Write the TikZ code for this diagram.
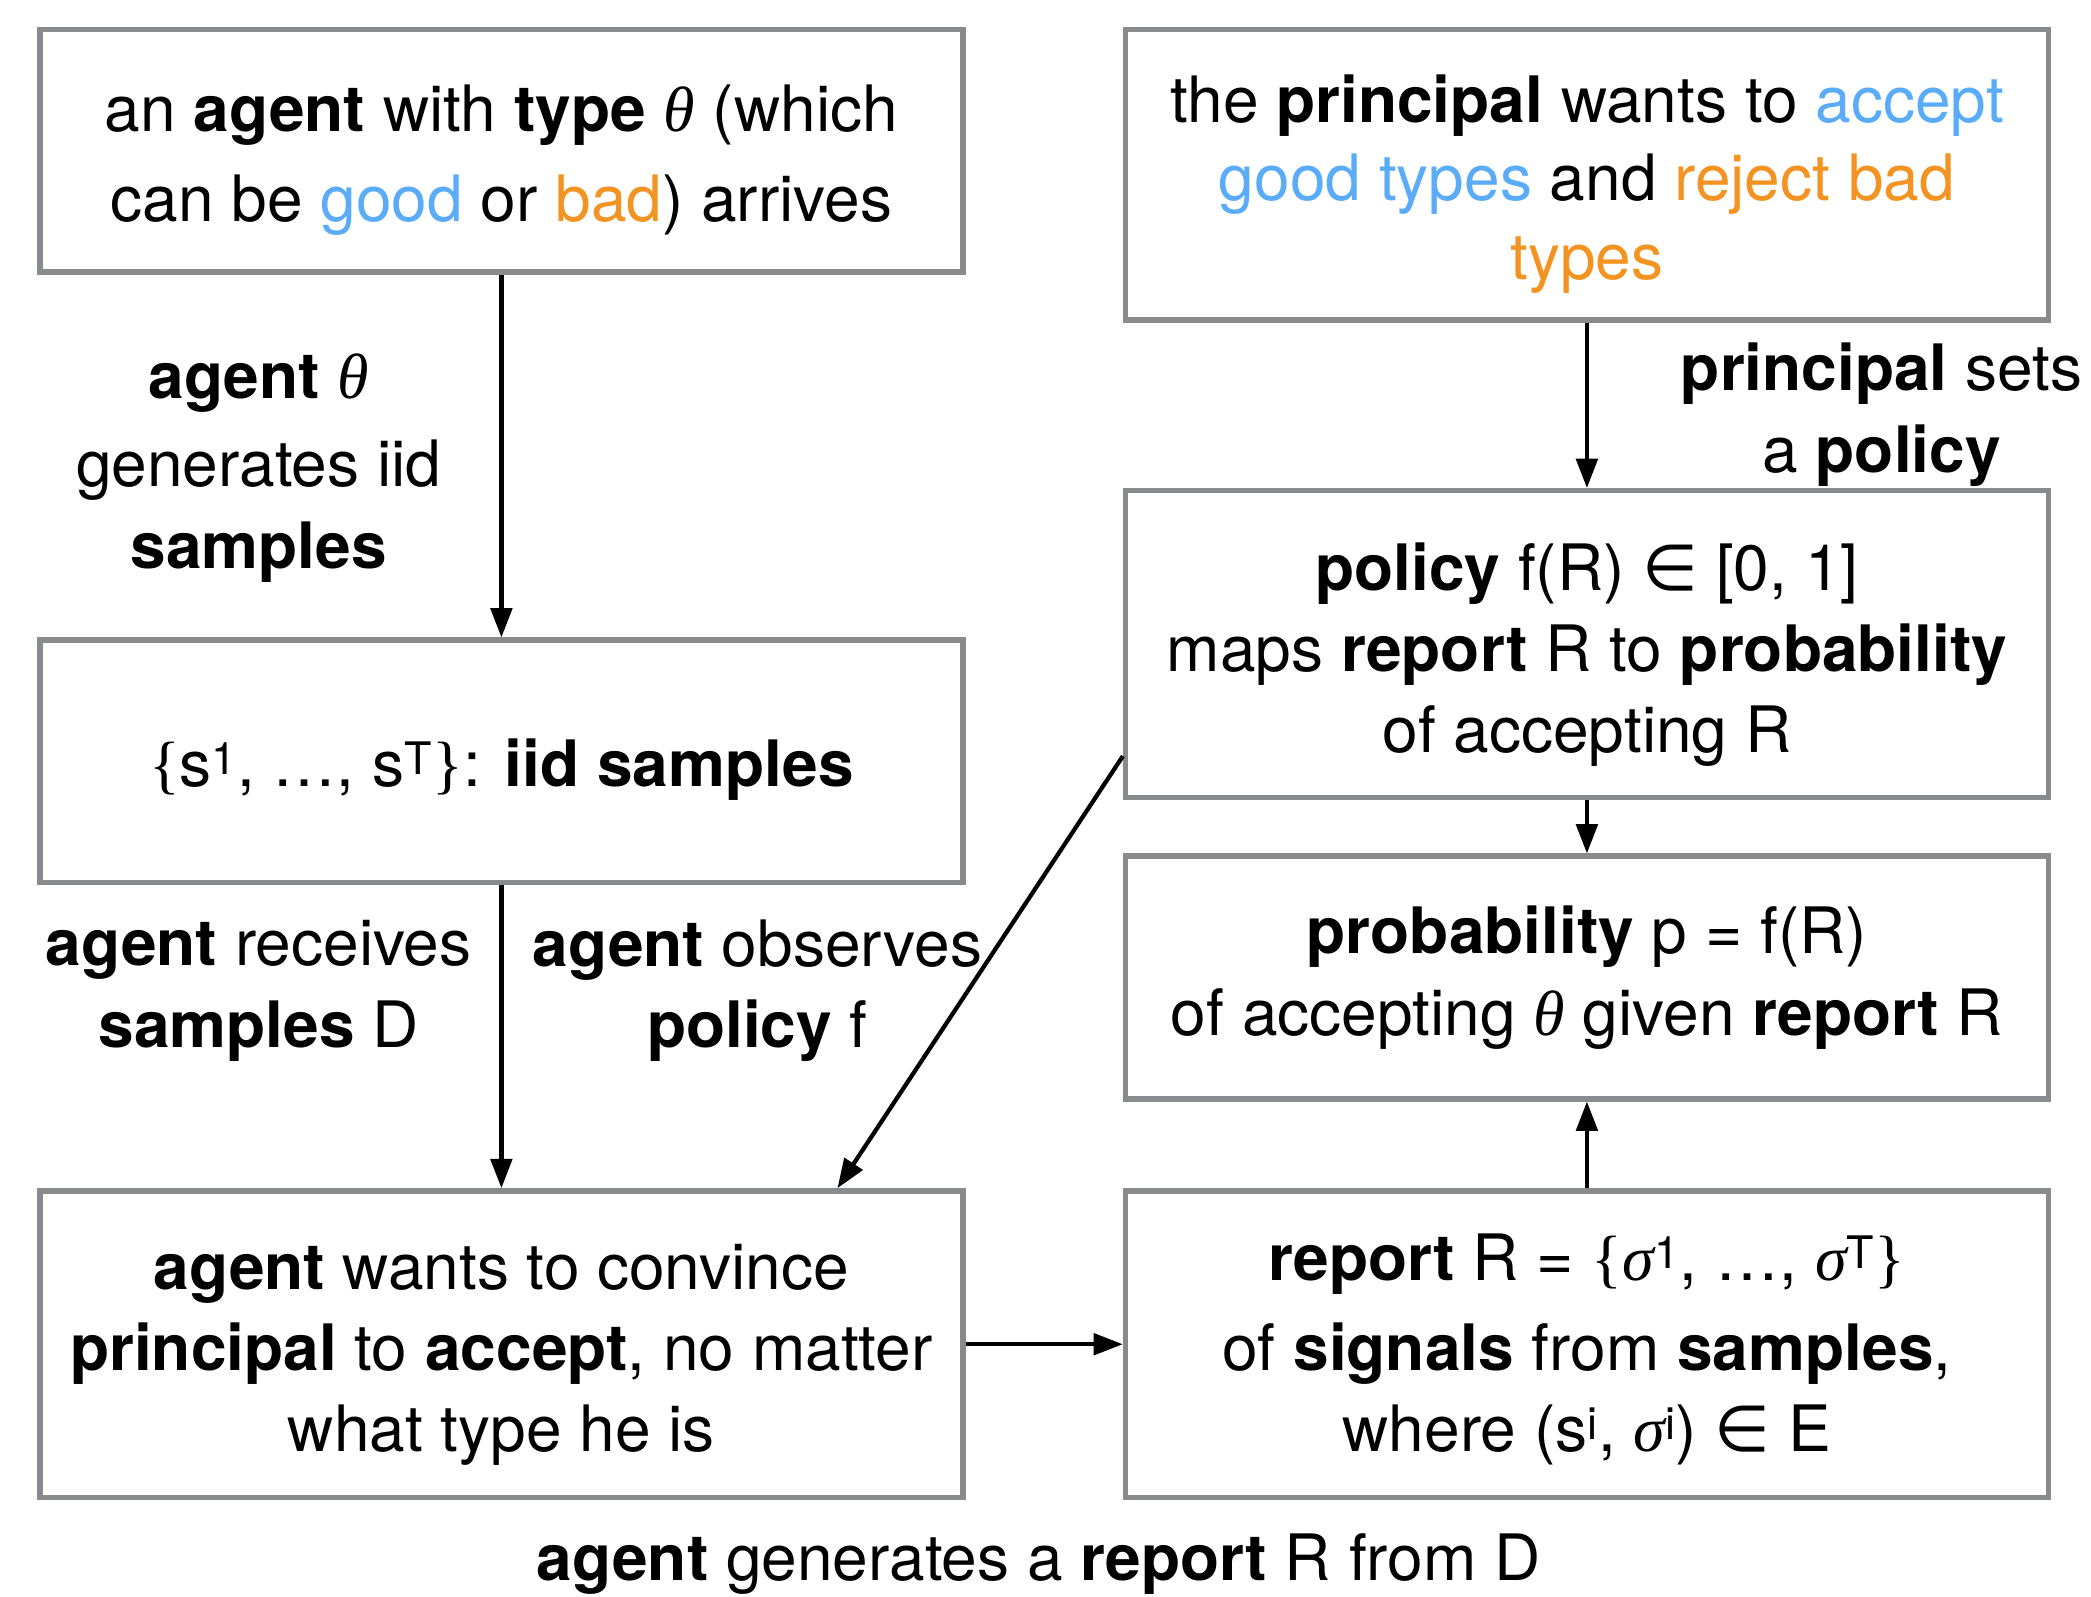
\documentclass[tikz,border=0pt]{standalone}
\usepackage{fontspec}
\setmainfont{TeX Gyre Heros}
\newfontfamily\serifgr{Liberation Serif}
\newfontfamily\symf{DejaVu Sans}
\newcommand{\thet}{{\serifgr\itshape θ}}
\newcommand{\sigm}{{\serifgr\itshape σ}}
\newcommand{\elem}{{\symf ∈}}
\newcommand{\lbr}{{\serifgr\{}}
\newcommand{\rbr}{{\serifgr\}}}
\usetikzlibrary{arrows.meta}
\definecolor{boxgray}{RGB}{136,138,141}
\definecolor{gblue}{RGB}{90,172,248}
\definecolor{borange}{RGB}{243,147,34}
\begin{document}
\begin{tikzpicture}[x=1pt,y=-1pt,
  box/.style={draw=boxgray, line width=4pt, minimum width=692pt, inner sep=0pt},
  lbl/.style={align=center, inner sep=0pt, font=\fontsize{48}{61}\selectfont},
  arr/.style={-{Triangle[length=22pt,width=16pt]}, line width=3.2pt}]
\useasboundingbox (0,0) rectangle (1568,1197);
\node[box, minimum height=182pt, label={[lbl,yshift=-7pt]center:{an \textbf{agent} with \textbf{type} \thet{} (which\\[6pt] can be \textcolor{gblue}{good} or \textcolor{borange}{bad}) arrives}}] (A) at (376,113) {};
\node[box, minimum height=182pt, label={[lbl,yshift=-6pt]center:{\lbr s\textsuperscript{1}, \ldots, s\textsuperscript{T}\rbr: \textbf{iid samples}}}] (B) at (376,571) {};
\node[box, minimum height=230pt, label={[lbl,yshift=-8pt]center:{\textbf{agent} wants to convince\\ \textbf{principal} to \textbf{accept}, no matter\\ what type he is}}] (C) at (376,1008) {};
\node[box, minimum height=218pt, label={[lbl,yshift=-7pt]center:{the \textbf{principal} wants to \textcolor{gblue}{accept}\\[-2pt] \textcolor{gblue}{good types} and \textcolor{borange}{reject bad}\\[-2pt] \textcolor{borange}{types}}}] (D) at (1190,131) {};
\node[box, minimum height=230pt, label={[lbl,yshift=-8pt]center:{\textbf{policy} f(R) \elem{} [0, 1]\\ maps \textbf{report} R to \textbf{probability}\\ of accepting R}}] (E) at (1190,483) {};
\node[box, minimum height=182pt, label={[lbl]center:{\textbf{probability} p = f(R)\\ of accepting \thet{} given \textbf{report} R}}] (F) at (1190,733) {};
\node[box, minimum height=230pt, label={[lbl,yshift=-4pt]center:{\textbf{report} R = \lbr\sigm\textsuperscript{1}, \ldots, \sigm\textsuperscript{T}\rbr\\[6pt] of \textbf{signals} from \textbf{samples},\\ where (s\textsuperscript{i}, \sigm\textsuperscript{i}) \elem{} E}}] (G) at (1190,1008) {};
\node[lbl] (l1) at (194,351) {\textbf{agent} \thet\\[5pt] generates iid\\ \textbf{samples}};
\node[lbl] (l2) at (1411,311) {\textbf{principal} sets\\ a \textbf{policy}};
\node[lbl] (l3) at (194,743) {\textbf{agent} receives\\ \textbf{samples} D};
\node[lbl] (l4) at (568,743) {\textbf{agent} observes\\ \textbf{policy} f};
\node[lbl] (l5) at (779,1173) {\textbf{agent} generates a \textbf{report} R from D};
\draw[arr] (A) -- (B);
\draw[arr] (B) -- (C);
\draw[arr] (D) -- (E);
\draw[arr] (E) -- (F);
\draw[arr] (G) -- (F);
\draw[arr] (C) -- (G);
\draw[arr] ([yshift=33pt]E.south west) -- ([xshift=600pt]C.north west);
\end{tikzpicture}
\end{document}
